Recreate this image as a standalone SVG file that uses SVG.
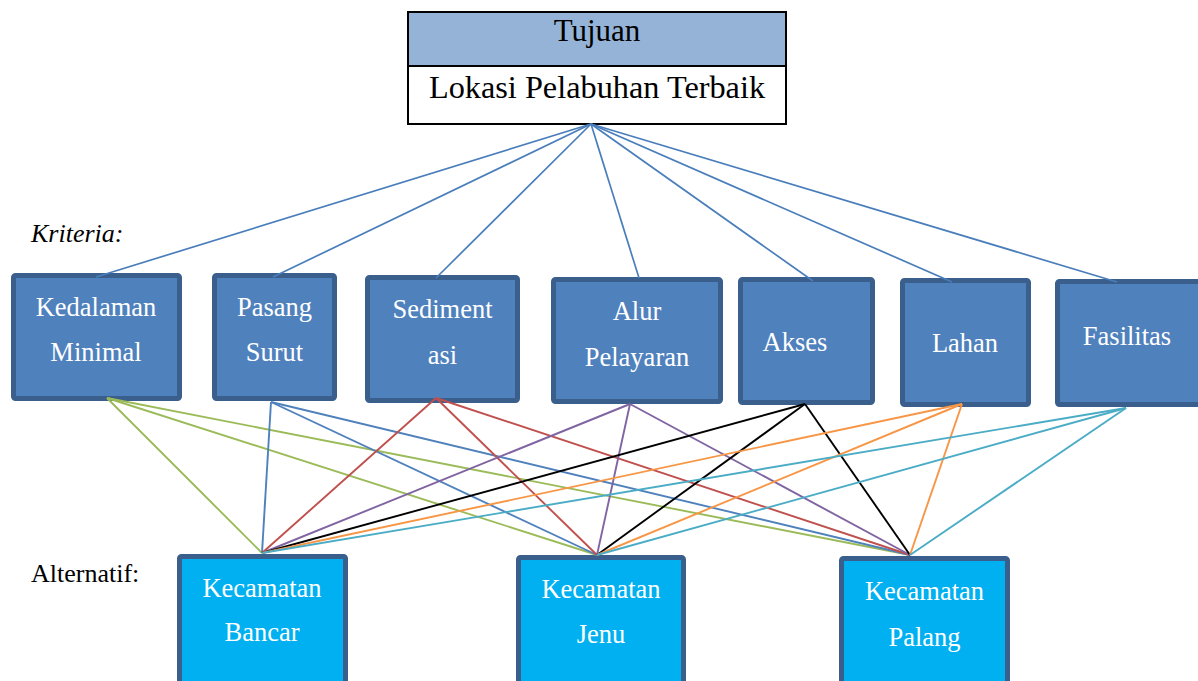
<svg xmlns="http://www.w3.org/2000/svg" width="1198" height="681" viewBox="0 0 1198 681">
  <style>
    .t { font-family: "Liberation Serif", "Times New Roman", serif; }
    .crit rect { fill: #4f81bd; stroke: #3a5f8c; stroke-width: 5; }
    .alt rect { fill: #00b0f0; stroke: #3a5f8c; stroke-width: 5; }
    .lbl { fill: #ffffff; font-size: 26.5px; text-anchor: middle; }
    .side { fill: #000000; font-size: 26px; }
    .up line { stroke: #4a7ebb; stroke-width: 1.7; }
    .down line { stroke-width: 1.9; }
  </style>
  <rect width="1198" height="681" fill="#ffffff"/>

  <!-- goal -->
  <g id="goal">
    <rect x="408" y="12" width="378" height="112" fill="#ffffff"/>
    <rect x="409" y="13" width="376" height="53" fill="#95b3d7"/>
    <line x1="408" y1="66" x2="786" y2="66" stroke="#000000" stroke-width="2"/>
    <rect x="408" y="12" width="378" height="112" fill="none" stroke="#000000" stroke-width="2"/>
    <text class="t" x="597" y="41" font-size="31" text-anchor="middle">Tujuan</text>
    <text class="t" x="597" y="98" font-size="32.3" text-anchor="middle">Lokasi Pelabuhan Terbaik</text>
  </g>

  <text id="label-kriteria" class="t side" x="31" y="242" font-style="italic">Kriteria:</text>
  <text id="label-alternatif" class="t side" x="31" y="582">Alternatif:</text>

  <!-- criteria -->
  <g id="kedalaman-minimal" class="crit">
    <rect x="13.5" y="275.5" width="166" height="123" rx="2"/>
    <text class="t lbl" x="96" y="316">Kedalaman</text>
    <text class="t lbl" x="96" y="361">Minimal</text>
  </g>
  <g id="pasang-surut" class="crit">
    <rect x="214.5" y="275.5" width="120" height="123" rx="2"/>
    <text class="t lbl" x="274.5" y="316">Pasang</text>
    <text class="t lbl" x="274.5" y="361">Surut</text>
  </g>
  <g id="sedimentasi" class="crit">
    <rect x="367.5" y="277.5" width="150" height="123" rx="2"/>
    <text class="t lbl" x="442.5" y="318">Sediment</text>
    <text class="t lbl" x="442.5" y="364">asi</text>
  </g>
  <g id="alur-pelayaran" class="crit">
    <rect x="553.5" y="279.5" width="167" height="122" rx="2"/>
    <text class="t lbl" x="637" y="320">Alur</text>
    <text class="t lbl" x="637" y="366">Pelayaran</text>
  </g>
  <g id="akses" class="crit">
    <rect x="740.5" y="279.5" width="132" height="123" rx="2"/>
    <text class="t lbl" x="795" y="351">Akses</text>
  </g>
  <g id="lahan" class="crit">
    <rect x="902.5" y="280.5" width="126" height="124" rx="2"/>
    <text class="t lbl" x="965" y="352">Lahan</text>
  </g>
  <g id="fasilitas" class="crit">
    <rect x="1057.5" y="281.5" width="150" height="123" rx="2"/>
    <text class="t lbl" x="1127" y="345">Fasilitas</text>
  </g>

  <!-- alternatives -->
  <g id="kecamatan-bancar" class="alt">
    <rect x="179.5" y="556.5" width="166" height="140" rx="2"/>
    <text class="t lbl" x="262" y="597">Kecamatan</text>
    <text class="t lbl" x="262" y="641">Bancar</text>
  </g>
  <g id="kecamatan-jenu" class="alt">
    <rect x="518.5" y="557.5" width="165" height="140" rx="2"/>
    <text class="t lbl" x="601" y="598">Kecamatan</text>
    <text class="t lbl" x="601" y="643">Jenu</text>
  </g>
  <g id="kecamatan-palang" class="alt">
    <rect x="841.5" y="558.5" width="166" height="140" rx="2"/>
    <text class="t lbl" x="924.5" y="600">Kecamatan</text>
    <text class="t lbl" x="924.5" y="646">Palang</text>
  </g>

  <!-- connectors, drawn over the node borders -->
  <g id="connectors">
    <g class="up">
      <line x1="591" y1="124" x2="96" y2="277"/>
      <line x1="591" y1="124" x2="273" y2="277"/>
      <line x1="591" y1="124" x2="436" y2="278"/>
      <line x1="591" y1="124" x2="639" y2="278"/>
      <line x1="591" y1="124" x2="813" y2="281"/>
      <line x1="591" y1="124" x2="952" y2="282"/>
      <line x1="591" y1="124" x2="1117" y2="282"/>
    </g>
    <g class="down">
      <g stroke="#9bbb59">
        <line x1="107" y1="398" x2="262" y2="553"/>
        <line x1="107" y1="398" x2="597" y2="555"/>
        <line x1="107" y1="398" x2="910" y2="555"/>
      </g>
      <g stroke="#4f81bd">
        <line x1="271" y1="402" x2="262" y2="553"/>
        <line x1="271" y1="402" x2="597" y2="555"/>
        <line x1="271" y1="402" x2="910" y2="555"/>
      </g>
      <g stroke="#c0504d">
        <line x1="436" y1="398" x2="262" y2="553"/>
        <line x1="436" y1="398" x2="597" y2="555"/>
        <line x1="436" y1="398" x2="910" y2="555"/>
      </g>
      <g stroke="#8064a2">
        <line x1="630" y1="404" x2="262" y2="553"/>
        <line x1="630" y1="404" x2="597" y2="555"/>
        <line x1="630" y1="404" x2="910" y2="555"/>
      </g>
      <g stroke="#000000">
        <line x1="805" y1="404" x2="262" y2="553"/>
        <line x1="805" y1="404" x2="597" y2="555"/>
        <line x1="805" y1="404" x2="910" y2="555"/>
      </g>
      <g stroke="#f79646">
        <line x1="962" y1="404" x2="262" y2="553"/>
        <line x1="962" y1="404" x2="597" y2="555"/>
        <line x1="962" y1="404" x2="910" y2="555"/>
      </g>
      <g stroke="#4bacc6">
        <line x1="1126" y1="408" x2="262" y2="553"/>
        <line x1="1126" y1="408" x2="597" y2="555"/>
        <line x1="1126" y1="408" x2="910" y2="555"/>
      </g>
    </g>
  </g>
</svg>
